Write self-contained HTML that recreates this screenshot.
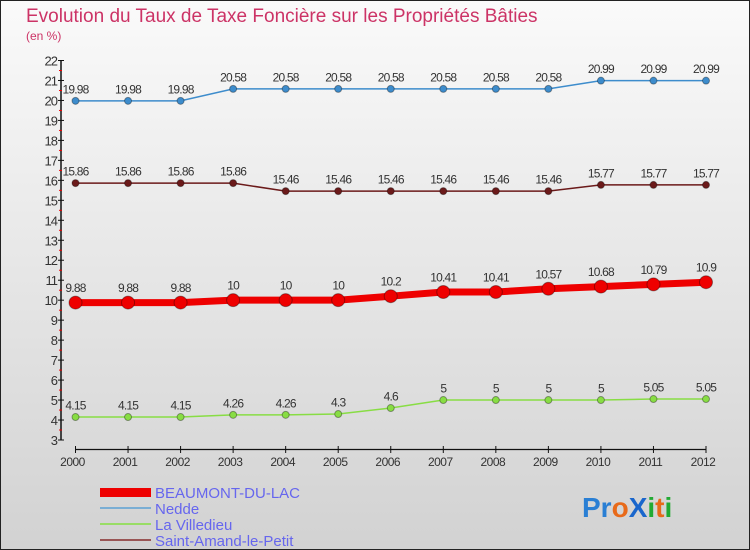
<!DOCTYPE html>
<html><head><meta charset="utf-8"><style>
body{margin:0;width:750px;height:550px;overflow:hidden;font-family:"Liberation Sans",sans-serif}
#wrap{position:absolute;left:0;top:0;width:748px;height:548px;border:1px solid #222;background:linear-gradient(#fafafa,#d2d2d2)}
</style></head><body>
<div id="wrap">
<svg id="chart" width="750" height="550" style="position:absolute;left:-1px;top:-1px">
<text x="26" y="22" font-size="19" fill="#cc3366">Evolution du Taux de Taxe Foncière sur les Propriétés Bâties</text>
<text x="26" y="40" font-size="12" fill="#cc3366">(en %)</text>
<text x="155" y="498" font-size="15" fill="#6666ee">BEAUMONT-DU-LAC</text>
<text x="155" y="514" font-size="15" fill="#6666ee">Nedde</text>
<text x="155" y="530" font-size="15" fill="#6666ee">La Villedieu</text>
<text x="155" y="546" font-size="15" fill="#6666ee">Saint-Amand-le-Petit</text>
<rect x="100" y="488" width="51" height="9" fill="#ee0000"/>
<rect x="100" y="507" width="51" height="2" fill="#7aaed4"/>
<rect x="100" y="523" width="51" height="2" fill="#99dd66"/>
<rect x="100" y="539" width="51" height="2" fill="#995555"/>
<text x="582" y="517" font-size="28" font-weight="bold"><tspan fill="#2a7fd4">Pr</tspan><tspan fill="#e86a1a">o</tspan><tspan fill="#1a66cc">X</tspan><tspan fill="#22aa33">i</tspan><tspan fill="#e86a1a">t</tspan><tspan fill="#22aa33">i</tspan></text>
</svg>
</div>
<script>
const years=[2000,2001,2002,2003,2004,2005,2006,2007,2008,2009,2010,2011,2012];
const beaumont=[9.88,9.88,9.88,10,10,10,10.2,10.41,10.41,10.57,10.68,10.79,10.9];
const nedde=[19.98,19.98,19.98,20.58,20.58,20.58,20.58,20.58,20.58,20.58,20.99,20.99,20.99];
const villedieu=[4.15,4.15,4.15,4.26,4.26,4.3,4.6,5,5,5,5,5.05,5.05];
const saintAmand=[15.86,15.86,15.86,15.86,15.46,15.46,15.46,15.46,15.46,15.46,15.77,15.77,15.77];
const yTicks=[3,4,5,6,7,8,9,10,11,12,13,14,15,16,17,18,19,20,21,22];
const NS="http://www.w3.org/2000/svg";
const svg=document.getElementById('chart');
const X=i=>75.5+i*(706-75.5)/(years.length-1);
const Y=v=>440-(v-3)*(440-60.5)/19;
function mk(t,a){const e=document.createElementNS(NS,t);for(const k in a)e.setAttribute(k,a[k]);svg.appendChild(e);return e;}
let e=mk('line',{x1:61,y1:Y(22),x2:61,y2:Y(3),stroke:'#111','stroke-width':1.5});


yTicks.forEach(v=>{
 let t=mk('line',{x1:58,x2:64,y1:Y(v),y2:Y(v),stroke:'#111'});
 
 
 if(v<22){let m=mk('line',{x1:59,x2:62,y1:Y(v+0.5),y2:Y(v+0.5),stroke:'#e00'});
 
 }
 let l=mk('text',{x:57,y:Y(v)+5,'font-size':13,'text-anchor':'end',fill:'#333','letter-spacing':'-1'});l.textContent=v;
 
 
});
e=mk('line',{x1:X(0),x2:X(12),y1:449.5,y2:449.5,stroke:'#111','stroke-width':1.2});


years.forEach((yr,i)=>{
 let t=mk('line',{x1:X(i),x2:X(i),y1:446,y2:453,stroke:'#111'});
 
 
 let l=mk('text',{x:X(i)-3,y:466,'font-size':12,'text-anchor':'middle',fill:'#333','letter-spacing':'-0.5'});l.textContent=yr;
 
 
});
function series(data,col,w,r,name){
 const pts=data.map((v,i)=>X(i)+','+Y(v)).join(' ');
 let p=mk('polyline',{points:pts,fill:'none',stroke:col,'stroke-width':w});
 
 
 data.forEach((v,i)=>{
  let c=mk('circle',{cx:X(i),cy:Y(v),r:r,fill:col,stroke:'rgba(0,0,0,0.35)','stroke-width':1});
  
  
  let l=mk('text',{x:X(i),y:Y(v)-r-4,'font-size':12,'text-anchor':'middle',fill:'#333','letter-spacing':'-0.8'});l.textContent=v;
  
  
 });
}
series(nedde,'#3d8ccc',1.5,3.5,'nedde');
series(saintAmand,'#6b1a1a',1.5,3.5,'saint-amand');
series(villedieu,'#88dd44',1.5,3.5,'la-villedieu');
series(beaumont,'#ee0000',7,6.5,'beaumont');
</script>
</body></html>
